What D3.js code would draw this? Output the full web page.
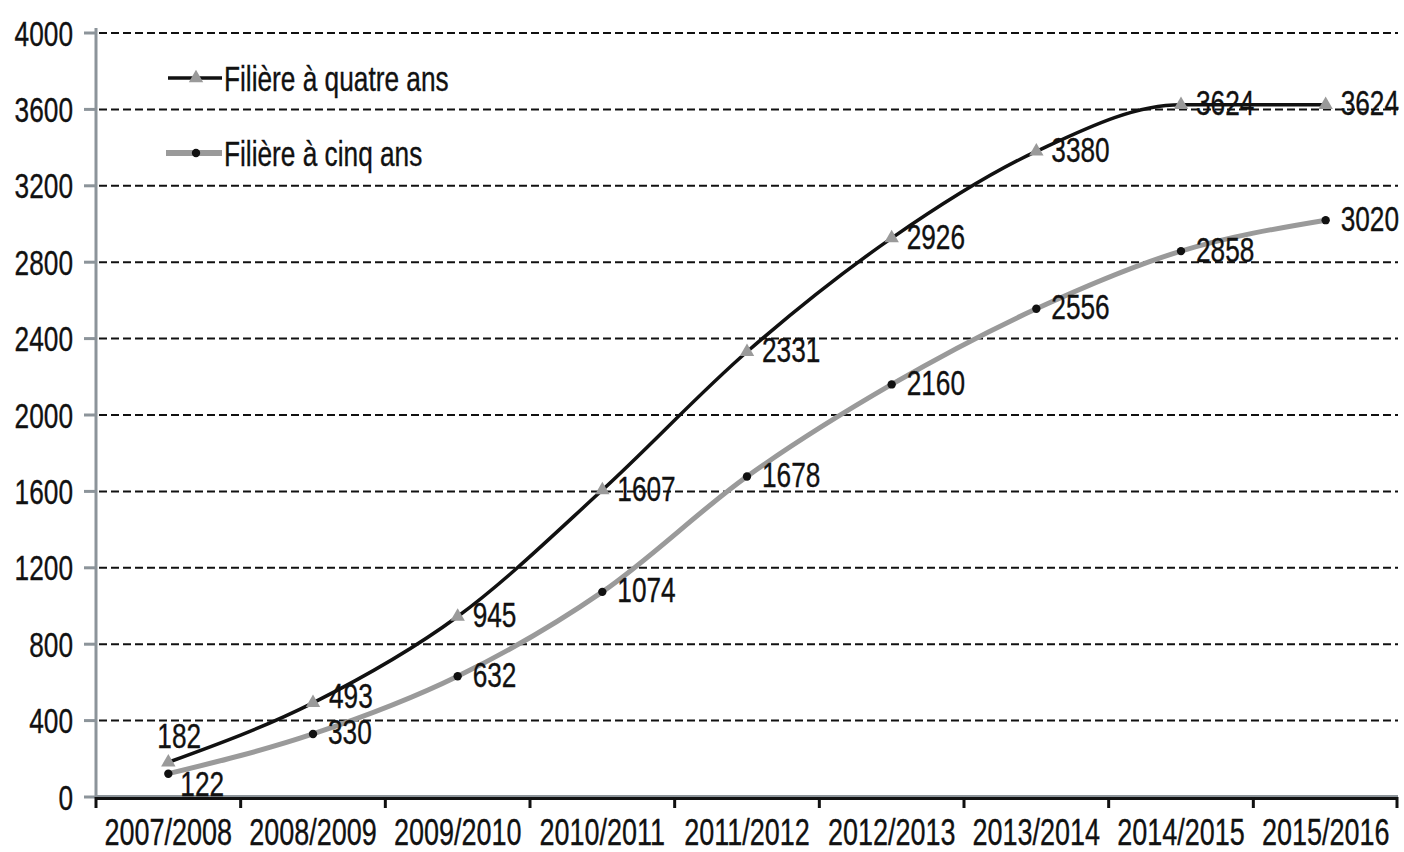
<!DOCTYPE html>
<html>
<head>
<meta charset="utf-8">
<script src="https://cdn.jsdelivr.net/npm/d3@7"></script>
<style>
  html, body { margin: 0; padding: 0; background: #fff; }
  svg { display: block; }
  text { font-family: "Liberation Sans", Arial, sans-serif; fill: #111; stroke: #111; stroke-width: 0.35px; }
</style>
</head>
<body>
<svg id="chart" width="1404" height="852"></svg>
<script>
const categories = ["2007/2008","2008/2009","2009/2010","2010/2011","2011/2012","2012/2013","2013/2014","2014/2015","2015/2016"];
const quatreAns = [182, 493, 945, 1607, 2331, 2926, 3380, 3624, 3624];
const cinqAns = [122, 330, 632, 1074, 1678, 2160, 2556, 2858, 3020];
const yTicks = [0, 400, 800, 1200, 1600, 2000, 2400, 2800, 3200, 3600, 4000];
const seriesNames = ["Filière à quatre ans", "Filière à cinq ans"];

const svg = d3.select("#chart");
const pLeft = 96, pRight = 1398, pTop = 33, pBottom = 797;
const SX = 0.75, FS = 35;

const x = d3.scaleBand().domain(categories).range([pLeft, pRight]).padding(0);
const y = d3.scaleLinear().domain([0, 4000]).range([pBottom, pTop]);
const cx = c => x(c) + x.bandwidth() / 2;

function label(g, px, py, str, anchor, size) {
  g.append("text")
    .attr("transform", `translate(${px},${py}) scale(${SX},1)`)
    .attr("text-anchor", anchor || "start")
    .attr("font-size", size || FS)
    .text(str);
}

// grid lines
svg.append("g").selectAll("line").data(yTicks.filter(d => d > 0)).join("line")
  .attr("x1", pLeft + 3).attr("x2", pRight)
  .attr("y1", d => y(d)).attr("y2", d => y(d))
  .attr("stroke", "#111").attr("stroke-width", 2).attr("stroke-dasharray", "8,4");

// y axis
const yg = svg.append("g");
yg.append("line").attr("x1", pLeft).attr("x2", pLeft).attr("y1", pTop - 5).attr("y2", pBottom)
  .attr("stroke", "#8c949a").attr("stroke-width", 3);
yg.selectAll("line.tick").data(yTicks).join("line").attr("class", "tick")
  .attr("x1", pLeft - 12).attr("x2", pLeft).attr("y1", d => y(d)).attr("y2", d => y(d))
  .attr("stroke", "#8c949a").attr("stroke-width", 3);
yTicks.forEach(d => label(yg, 73, y(d) + 12.5, String(d), "end"));

// x axis
const xg = svg.append("g");
xg.append("line").attr("x1", pLeft).attr("x2", pRight).attr("y1", pBottom - 1).attr("y2", pBottom - 1)
  .attr("stroke", "#8c949a").attr("stroke-width", 2);
xg.append("line").attr("x1", pLeft).attr("x2", pRight).attr("y1", pBottom + 1.5).attr("y2", pBottom + 1.5)
  .attr("stroke", "#111").attr("stroke-width", 3);
const bounds = categories.map(c => x(c)).concat([pRight]);
xg.selectAll("line.tick").data(bounds).join("line").attr("class", "tick")
  .attr("x1", d => Math.min(d, pRight - 1)).attr("x2", d => Math.min(d, pRight - 1))
  .attr("y1", pBottom).attr("y2", pBottom + 11)
  .attr("stroke", "#111").attr("stroke-width", 3);
categories.forEach(c => label(xg, cx(c), 845, c, "middle", 36));

// lines
const line = d3.line().x((d, i) => cx(categories[i])).y(d => y(d)).curve(d3.curveMonotoneX);
svg.append("path").datum(cinqAns).attr("d", line).attr("fill", "none")
  .attr("stroke", "#9a9a9a").attr("stroke-width", 5);
svg.append("path").datum(quatreAns).attr("d", line).attr("fill", "none")
  .attr("stroke", "#111").attr("stroke-width", 3.5);

// markers
const tri = d3.symbol().type(d3.symbolTriangle).size(90);
const dot = d3.symbol().type(d3.symbolCircle).size(55);
svg.append("g").selectAll("path").data(quatreAns).join("path")
  .attr("d", tri).attr("fill", "#9a9a9a")
  .attr("transform", (d, i) => `translate(${cx(categories[i])},${y(d)})`);
svg.append("g").selectAll("path").data(cinqAns).join("path")
  .attr("d", dot).attr("fill", "#111")
  .attr("transform", (d, i) => `translate(${cx(categories[i])},${y(d)})`);

// data labels
const lg = svg.append("g");
quatreAns.forEach((d, i) => {
  const px = cx(categories[i]), py = y(d);
  if (i === 0) label(lg, px - 11, py - 27 + 12.5, String(d));
  else if (i === 1) label(lg, px + 16, py - 7 + 12.5, String(d));
  else label(lg, px + 15, py - 2 + 12.5, String(d));
});
cinqAns.forEach((d, i) => {
  const px = cx(categories[i]), py = y(d);
  if (i === 0) label(lg, px + 12, py + 10 + 12.5, String(d));
  else label(lg, px + 15, py - 2 + 12.5, String(d));
});

// legend
const leg = svg.append("g");
leg.append("line").attr("x1", 168).attr("x2", 222).attr("y1", 78).attr("y2", 78)
  .attr("stroke", "#111").attr("stroke-width", 3.5);
leg.append("path").attr("d", tri).attr("fill", "#9a9a9a").attr("transform", "translate(196,78)");
label(leg, 224, 90.5, seriesNames[0]);
leg.append("line").attr("x1", 166).attr("x2", 222).attr("y1", 153).attr("y2", 153)
  .attr("stroke", "#9a9a9a").attr("stroke-width", 6);
leg.append("path").attr("d", dot).attr("fill", "#111").attr("transform", "translate(196,153)");
label(leg, 224, 165.5, seriesNames[1]);
</script>
</body>
</html>
